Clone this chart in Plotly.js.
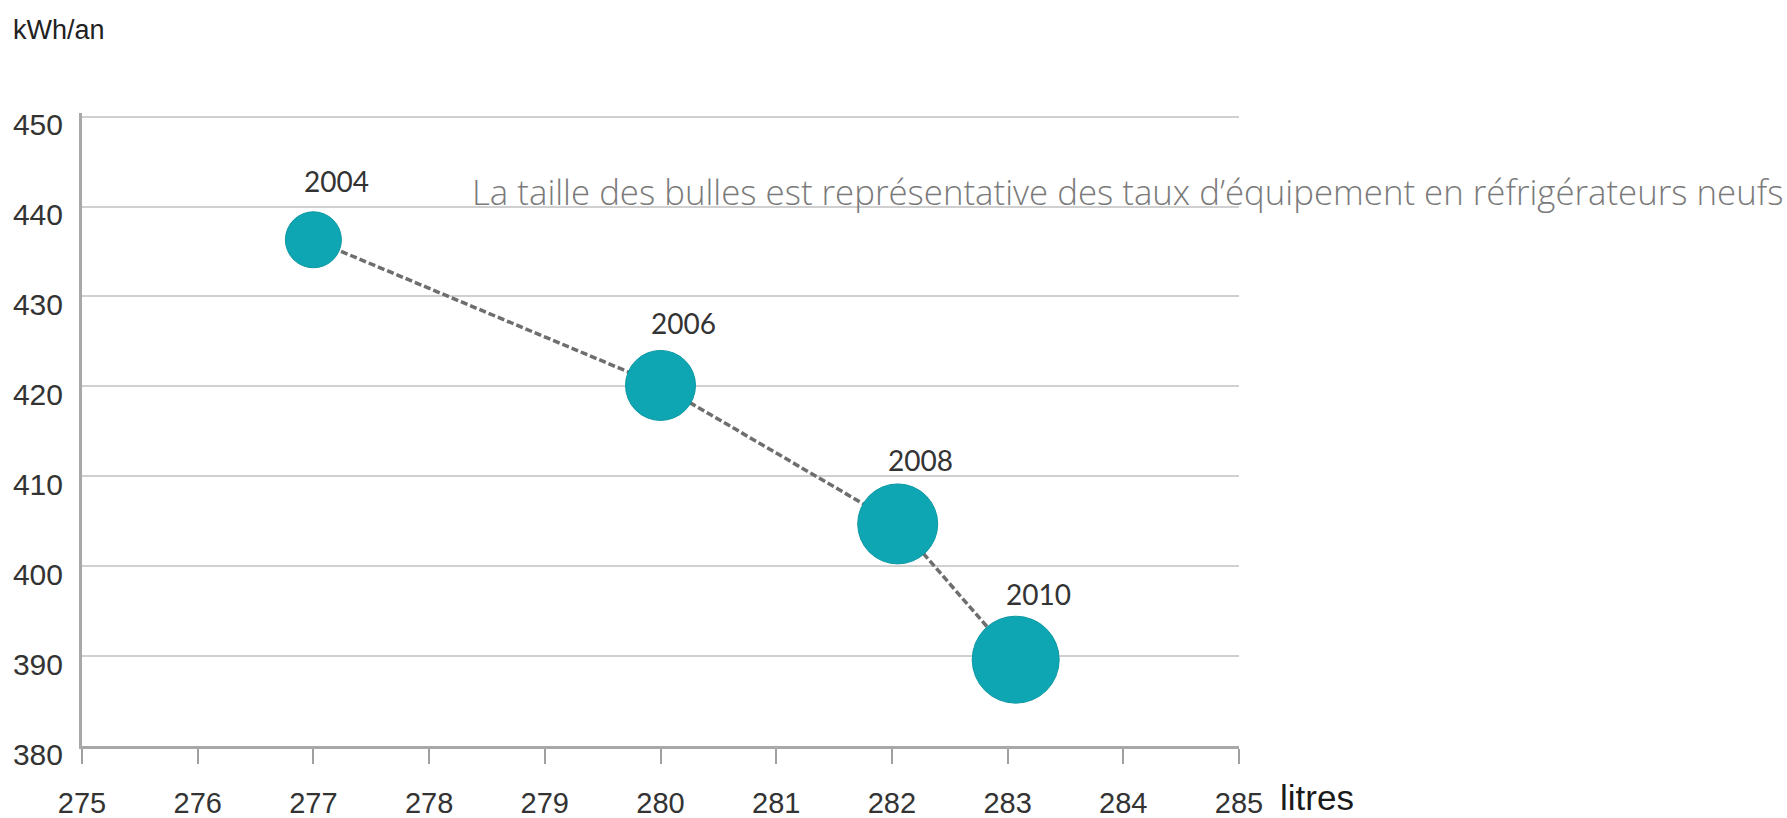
<!DOCTYPE html>
<html>
<head>
<meta charset="utf-8">
<script src="https://cdn.plot.ly/plotly-3.0.1.min.js"></script>
<style>html,body{margin:0;padding:0;background:#fff;}#chart{width:1787px;height:818px;}</style>
</head>
<body>
<div id="chart"></div>
<script>
// Data
const years = ['2004', '2006', '2008', '2010'];
const litres = [277, 280, 282.05, 283.07];
const kwhPerYear = [436.3, 420.1, 404.7, 389.6];
const bubbleSize = [56, 70, 80, 87];
const xTickVals = [275, 276, 277, 278, 279, 280, 281, 282, 283, 284, 285];
const yTickVals = [380, 390, 400, 410, 420, 430, 440, 450];

const trace = {
  type: 'scatter',
  mode: 'lines+markers',
  x: litres,
  y: kwhPerYear,
  line: {color: '#6e6e6e', width: 3.5, dash: '7px,3px'},
  marker: {size: bubbleSize, color: '#0ea6b3', line: {color: '#0b98a4', width: 1}, opacity: 1},
  hoverinfo: 'x+y',
  showlegend: false
};

const yearAnnotations = years.map((yr, i) => ({
  x: litres[i], y: kwhPerYear[i], xref: 'x', yref: 'y',
  text: yr, showarrow: false,
  xshift: 23, yshift: 48 + bubbleSize[i] * 0.2,
  font: {family: 'Lato, "Open Sans", sans-serif', size: 28, color: '#333333'}
}));

const layout = {
  width: 1787, height: 818,
  margin: {l: 82, r: 548, t: 113, b: 72},
  paper_bgcolor: '#ffffff', plot_bgcolor: '#ffffff',
  xaxis: {
    range: [275, 285], tickvals: xTickVals, ticktext: xTickVals.map(String),
    showgrid: false, zeroline: false,
    showline: true, linecolor: '#a8a8a8', linewidth: 3,
    ticks: 'outside', ticklen: 15, tickwidth: 2, tickcolor: '#a0a0a0',
    ticklabelstandoff: 14,
    tickfont: {family: '"Liberation Sans", Arial, sans-serif', size: 29, color: '#333333'}
  },
  yaxis: {
    range: [380, 450.4], tickvals: yTickVals, ticktext: yTickVals.map(String),
    showgrid: true, gridcolor: '#d0d0d0', gridwidth: 2, zeroline: false,
    showline: true, linecolor: '#a8a8a8', linewidth: 3,
    ticks: '', ticklabelstandoff: 10, ticklabelshift: 8,
    tickfont: {family: '"Liberation Sans", Arial, sans-serif', size: 30, color: '#333333'}
  },
  annotations: [
    ...yearAnnotations,
    {xref: 'paper', yref: 'paper', x: 0.335, y: 0.876, xanchor: 'left', yanchor: 'middle',
     text: 'La taille des bulles est représentative des taux d\u2019équipement en réfrigérateurs neufs',
     showarrow: false, font: {family: '"Open Sans", Lato, sans-serif', size: 34.8, weight: 300, color: '#7a7a7a'}},
    {xref: 'paper', yref: 'paper', x: -0.0614, y: 1.1317, xanchor: 'left', yanchor: 'middle',
     text: 'kWh/an', showarrow: false,
     font: {family: '"Liberation Sans", Arial, sans-serif', size: 27, color: '#222222'}},
    {xref: 'paper', yref: 'paper', x: 1.0337, y: -0.081, xanchor: 'left', yanchor: 'middle',
     text: 'litres', showarrow: false,
     font: {family: '"Liberation Sans", Arial, sans-serif', size: 35, color: '#1a1a1a'}}
  ]
};

Plotly.newPlot('chart', [trace], layout, {displayModeBar: false, staticPlot: true});
</script>
</body>
</html>
